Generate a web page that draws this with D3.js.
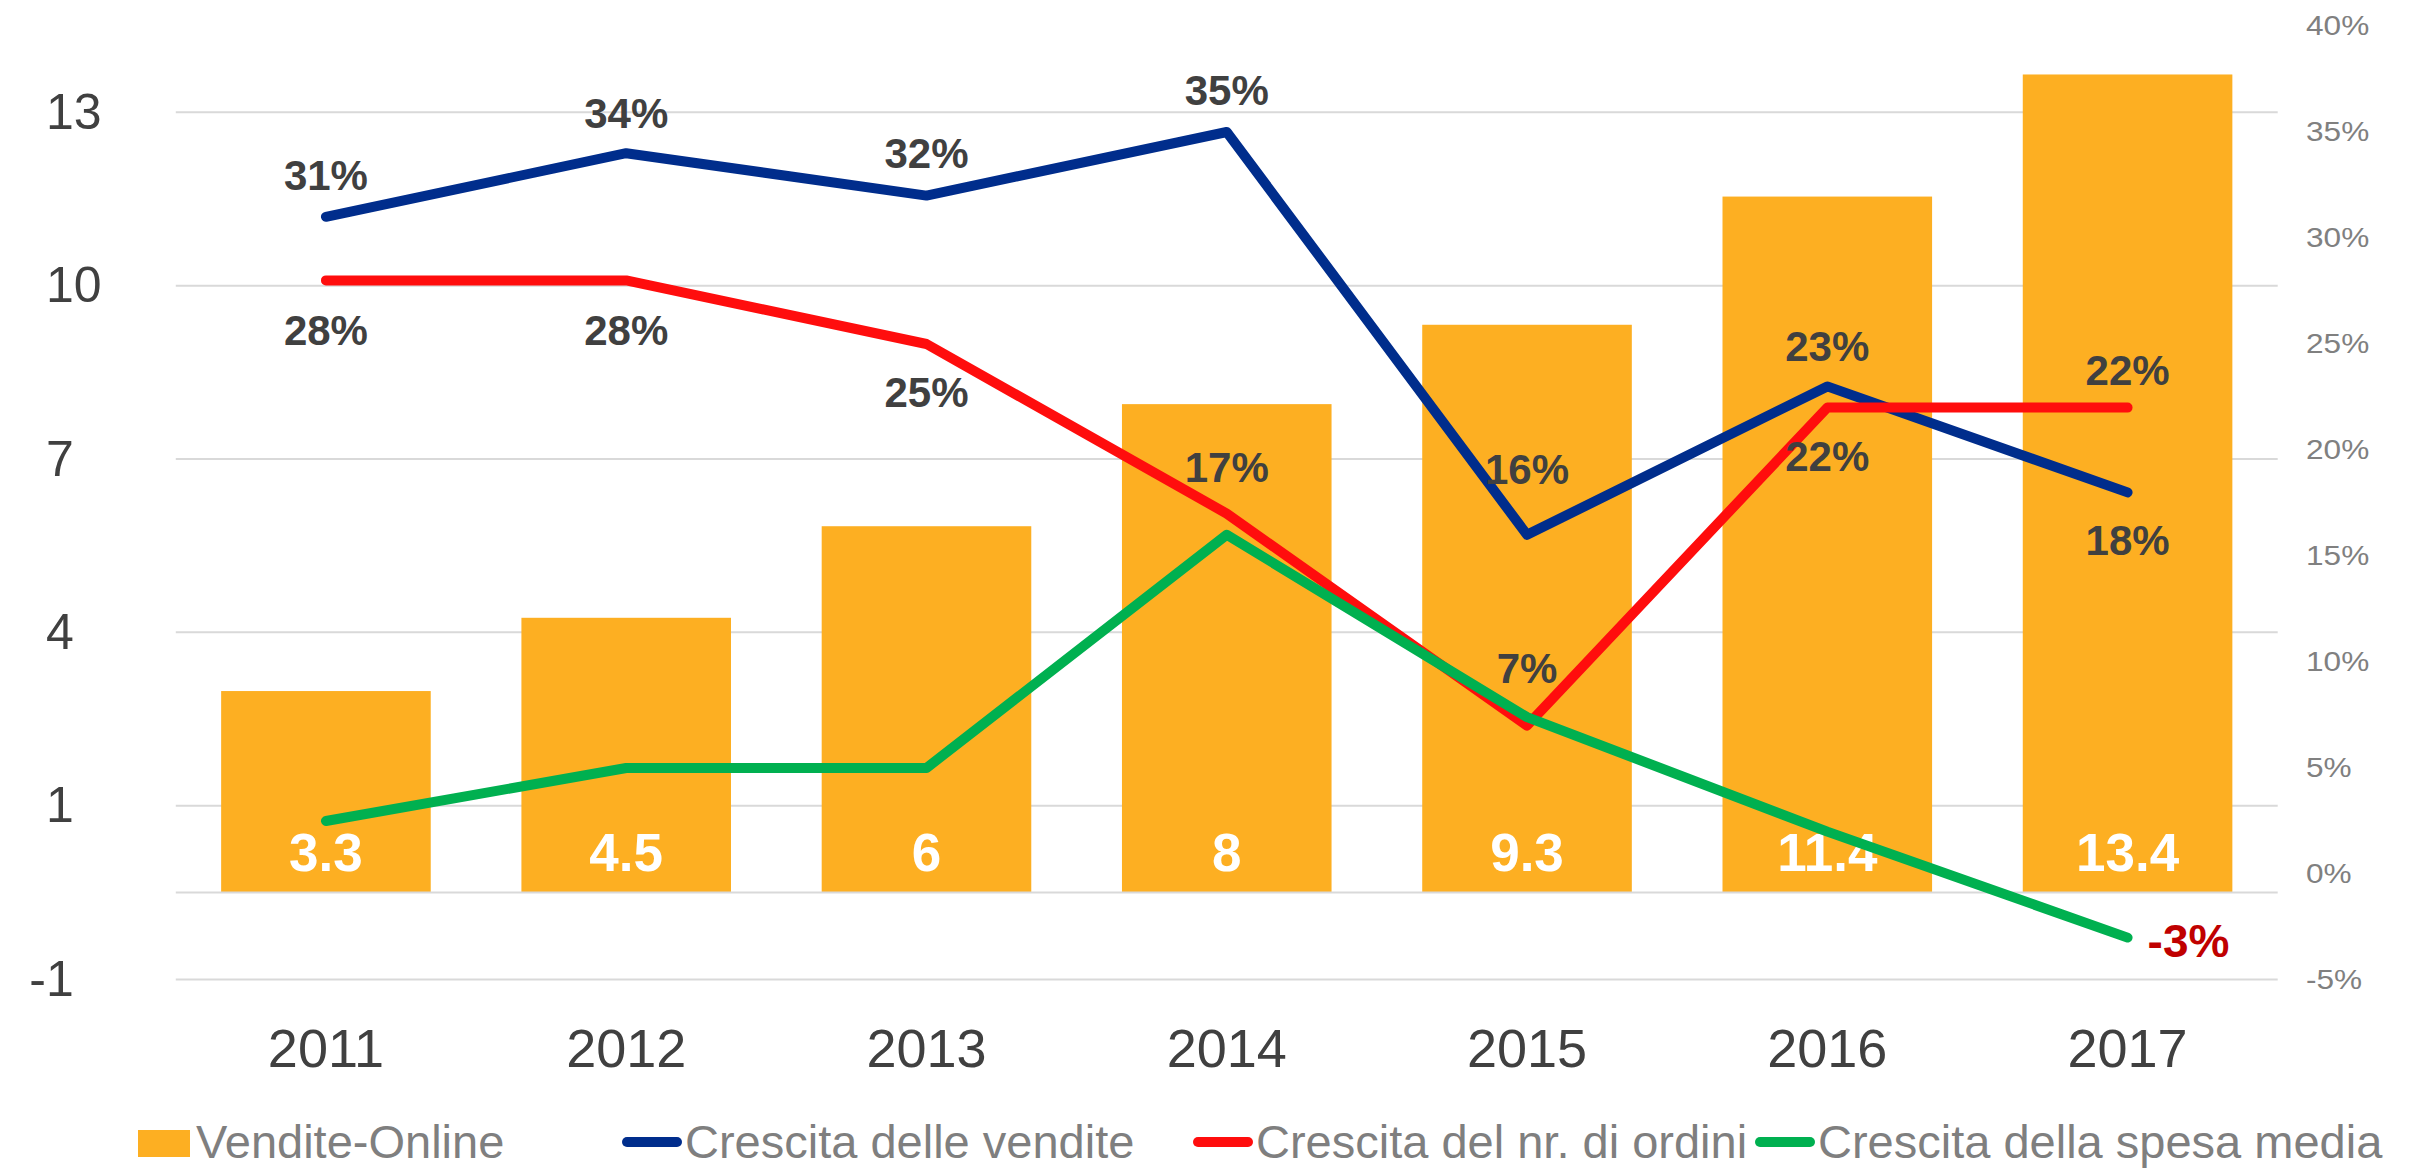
<!DOCTYPE html>
<html>
<head>
<meta charset="utf-8">
<script src="https://cdn.jsdelivr.net/npm/d3@7"></script>
<style>
  html, body { margin: 0; padding: 0; background: #fff; }
  svg { display: block; font-family: "Liberation Sans", Arial, sans-serif; }
</style>
</head>
<body>
<svg id="chart" width="2421" height="1169"></svg>
<script>
// Dati
var anni = ["2011", "2012", "2013", "2014", "2015", "2016", "2017"];
var venditeOnline = [3.3, 4.5, 6, 8, 9.3, 11.4, 13.4];
var crescitaVendite = [31, 34, 32, 35, 16, 23, 18];
var crescitaOrdini = [28, 28, 25, 17, 7, 22, 22];
var crescitaSpesa = [2.5, 5, 5, 16, 7.4, 2, -3];
var tickSinistra = [-1, 1, 4, 7, 10, 13];
var tickDestra = [-5, 0, 5, 10, 15, 20, 25, 30, 35, 40];
var nomiSerie = ["Vendite-Online", "Crescita delle vendite", "Crescita del nr. di ordini", "Crescita della spesa media"];

// Posizione etichette (scostamento verticale dal punto)
var dyVendite = [-42, -40, -43, -42, -66, -40, 48];
var dyOrdini = [50, 50, 48, -47, -58, 48, -38];

var colori = {
  barre: "#FDAF22",
  vendite: "#002D8C",
  ordini: "#FF0D0D",
  spesa: "#00B050",
  griglia: "#D9D9D9",
  testo: "#404040",
  grigio: "#808080"
};

// formato con trattino semplice (non il segno meno tipografico)
var perc = function (d) { return Math.round(d) + "%"; };

var svg = d3.select("#chart");

// Scale
var x = d3.scaleBand().domain(anni).range([175.8, 2277.7]).paddingInner(0.302).paddingOuter(0.151);
var yBar = d3.scaleLinear().domain([0, 14.62]).range([892.5, 0]);
var yLeft = d3.scaleLinear().domain([-1, 1, 13]).range([979.5, 805.7, 112.3]);
var yRight = d3.scaleLinear().domain([-5, 40]).range([980, 26]);

// Griglia
svg.append("g").selectAll("line")
  .data(tickSinistra)
  .enter().append("line")
  .attr("x1", x.range()[0]).attr("x2", x.range()[1])
  .attr("y1", function (d) { return yLeft(d); })
  .attr("y2", function (d) { return yLeft(d); })
  .attr("stroke", colori.griglia)
  .attr("stroke-width", 2);

// Barre
svg.append("g").selectAll("rect")
  .data(venditeOnline)
  .enter().append("rect")
  .attr("x", function (d, i) { return x(anni[i]); })
  .attr("y", function (d) { return yBar(d); })
  .attr("width", x.bandwidth())
  .attr("height", function (d) { return yBar(0) - yBar(d); })
  .attr("fill", colori.barre);

// Linea dello zero delle barre
svg.append("line")
  .attr("x1", x.range()[0]).attr("x2", x.range()[1])
  .attr("y1", yBar(0)).attr("y2", yBar(0))
  .attr("stroke", colori.griglia)
  .attr("stroke-width", 2);

// Asse sinistro (etichette allineate a sinistra, segno meno sporgente)
var assSx = svg.append("g")
  .attr("transform", "translate(46,0)")
  .call(d3.axisLeft(yLeft).tickValues(tickSinistra).tickSize(0).tickPadding(0)
    .tickFormat(function (d) { return String(d); }));
assSx.select(".domain").remove();
assSx.selectAll("text")
  .attr("text-anchor", "start")
  .attr("dx", function (d) { return d < 0 ? "-0.333em" : 0; })
  .attr("font-size", 50)
  .attr("font-family", "'Liberation Sans', Arial, sans-serif")
  .attr("fill", colori.testo);

// Asse destro
var assDx = svg.append("g")
  .attr("transform", "translate(2306,0)")
  .call(d3.axisRight(yRight).tickValues(tickDestra).tickSize(0).tickPadding(0)
    .tickFormat(function (d) { return d + "%"; }));
assDx.select(".domain").remove();
assDx.selectAll("text")
  .attr("font-size", 27)
  .attr("font-family", "'Liberation Sans', Arial, sans-serif")
  .attr("fill", colori.grigio)
  .attr("transform", "scale(1.17,1)");

// Asse X
var assX = svg.append("g")
  .attr("transform", "translate(0,1067)")
  .call(d3.axisBottom(x).tickSize(0).tickPadding(0));
assX.select(".domain").remove();
assX.selectAll("text")
  .attr("y", 0).attr("dy", null)
  .attr("font-size", 54)
  .attr("font-family", "'Liberation Sans', Arial, sans-serif")
  .attr("fill", colori.testo);

// Etichette barre
svg.append("g").selectAll("text")
  .data(venditeOnline)
  .enter().append("text")
  .attr("x", function (d, i) { return x(anni[i]) + x.bandwidth() / 2; })
  .attr("y", yBar(0) - 22)
  .attr("text-anchor", "middle")
  .attr("font-size", 53)
  .attr("font-weight", "bold")
  .attr("fill", "#fff")
  .text(function (d) { return d; });

// Linee
var cx = function (i) { return x(anni[i]) + x.bandwidth() / 2; };
var linea = d3.line()
  .x(function (d, i) { return cx(i); })
  .y(function (d) { return yRight(d); });

[[crescitaVendite, colori.vendite], [crescitaOrdini, colori.ordini], [crescitaSpesa, colori.spesa]].forEach(function (s) {
  svg.append("path")
    .datum(s[0])
    .attr("d", linea)
    .attr("fill", "none")
    .attr("stroke", s[1])
    .attr("stroke-width", 10)
    .attr("stroke-linecap", "round")
    .attr("stroke-linejoin", "round");
});

// Etichette linee
function etichette(valori, dy) {
  svg.append("g").selectAll("text")
    .data(valori)
    .enter().append("text")
    .attr("x", function (d, i) { return cx(i); })
    .attr("y", function (d, i) { return yRight(d) + dy[i] + 15; })
    .attr("text-anchor", "middle")
    .attr("font-size", 42)
    .attr("font-weight", "bold")
    .attr("fill", colori.testo)
    .text(perc);
}
etichette(crescitaVendite, dyVendite);
etichette(crescitaOrdini, dyOrdini);

// Solo l'ultimo valore della spesa media
var ultimo = crescitaSpesa.length - 1;
svg.append("text")
  .attr("x", cx(ultimo) + 20)
  .attr("y", yRight(crescitaSpesa[ultimo]) + 19)
  .attr("font-size", 46)
  .attr("font-weight", "bold")
  .attr("fill", "#C00000")
  .text(perc(crescitaSpesa[ultimo]));

// Legenda
var legX = [138, 622, 1193, 1755];
var legColori = [colori.barre, colori.vendite, colori.ordini, colori.spesa];
var leg = svg.append("g").selectAll("g")
  .data(nomiSerie)
  .enter().append("g")
  .attr("transform", function (d, i) { return "translate(" + legX[i] + ",0)"; });

leg.each(function (d, i) {
  var g = d3.select(this);
  if (i === 0) {
    g.append("rect").attr("x", 0).attr("y", 1130).attr("width", 52).attr("height", 27).attr("fill", legColori[i]);
    g.append("text").attr("x", 58).attr("y", 1158).text(d);
  } else {
    g.append("line").attr("x1", 5).attr("x2", 55).attr("y1", 1142).attr("y2", 1142)
      .attr("stroke", legColori[i]).attr("stroke-width", 10).attr("stroke-linecap", "round");
    g.append("text").attr("x", 63).attr("y", 1158).text(d);
  }
});
leg.selectAll("text")
  .attr("font-size", 47)
  .attr("fill", "#7F7F7F");
</script>
</body>
</html>
